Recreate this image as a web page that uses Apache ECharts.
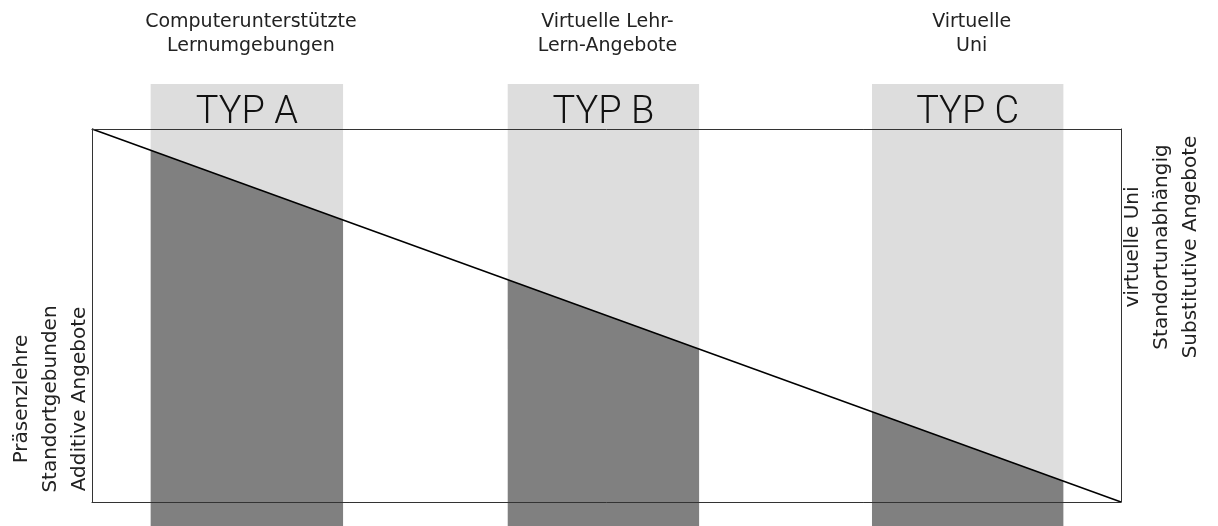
<!DOCTYPE html>
<html>
<head>
<meta charset="utf-8">
<script src="https://cdn.jsdelivr.net/npm/echarts@6/dist/echarts.min.js"></script>
<style>
  html, body { margin: 0; padding: 0; background: #fff; }
  #chart { width: 1218px; height: 526px; }
</style>
</head>
<body>
<div id="chart"></div>
<script>
// Typen (Bänder) und ihre Beschriftungen
const bandNames = ['TYP A', 'TYP B', 'TYP C'];
const bandTitles = ['Computerunterstützte\nLernumgebungen', 'Virtuelle Lehr-\nLern-Angebote', 'Virtuelle\nUni'];
// Lage der Bänder auf der x-Achse (0 = Präsenzlehre, 100 = virtuelle Uni)
const bandStart = [5.7, 40.4, 75.8];
const bandEnd = [24.4, 59.0, 94.4];
// Diagonale von links oben nach rechts unten
const diagonal = [[0, 100], [100, 0]];
const leftLabel = 'Präsenzlehre\nStandortgebunden\nAdditive Angebote';
const rightLabel = 'virtuelle Uni\nStandortunabhängig\nSubstitutive Angebote';

const FONT = '"DejaVu Sans", sans-serif';

// y-Wert der Diagonale an der Stelle x
function diagY(x) {
  const [a, b] = diagonal;
  return a[1] + (b[1] - a[1]) * (x - a[0]) / (b[0] - a[0]);
}

const bandData = bandStart.map((s, i) => [s, bandEnd[i], i]);

/**
 * Rahmen über Achslinien
 */
const frameAxis = {
  type: 'value',
  min: 0,
  max: 100,
  z: 5,
  axisLine: { show: true, onZero: false, lineStyle: { color: '#333', width: 1 } },
  axisTick: { show: false },
  axisLabel: { show: false },
  splitLine: { show: false },
};

function renderBand(params, api) {
  const x0 = api.value(0);
  const x1 = api.value(1);
  const idx = api.value(2);
  const p0 = api.coord([x0, diagY(x0)]);
  const p1 = api.coord([x1, diagY(x1)]);
  const gridTop = api.coord([x0, 100])[1];
  const top = gridTop - 45;
  const bottom = api.getHeight();
  const cx = (p0[0] + p1[0]) / 2;
  return {
    type: 'group',
    children: [
      {
        type: 'polygon',
        shape: { points: [[p0[0], top], [p1[0], top], p1, p0] },
        style: { fill: '#dddddd' },
      },
      {
        type: 'polygon',
        shape: { points: [p0, p1, [p1[0], bottom], [p0[0], bottom]] },
        style: { fill: '#808080' },
      },
      {
        type: 'text',
        x: cx,
        y: gridTop - 16,
        style: {
          text: bandNames[idx],
          fontFamily: 'Roboto, sans-serif',
          fontWeight: 300,
          fontSize: 38,
          fill: '#111',
          textAlign: 'center',
          textVerticalAlign: 'middle',
        },
      },
      {
        type: 'text',
        x: cx + 4,
        y: 34,
        style: {
          text: bandTitles[idx],
          fontFamily: FONT,
          fontSize: 19,
          lineHeight: 24,
          fill: '#222',
          textAlign: 'center',
          textVerticalAlign: 'middle',
        },
      },
    ],
  };
}

const sideText = {
  fontFamily: FONT,
  fontSize: 20,
  lineHeight: 29,
  fill: '#222',
  textAlign: 'center',
  textVerticalAlign: 'middle',
};

const option = {
  animation: false,
  grid: { left: 92, right: 97, top: 129, bottom: 24 },
  xAxis: [
    { ...frameAxis, position: 'bottom' },
    { ...frameAxis, position: 'top' },
  ],
  yAxis: [
    { ...frameAxis, position: 'left' },
    { ...frameAxis, position: 'right' },
  ],
  graphic: [
    {
      type: 'text',
      x: 51,
      y: 399,
      rotation: Math.PI / 2,
      style: { ...sideText, text: leftLabel },
    },
    {
      type: 'text',
      x: 1162,
      y: 247,
      rotation: Math.PI / 2,
      style: { ...sideText, text: rightLabel },
    },
  ],
  series: [
    {
      type: 'custom',
      z: 2,
      clip: false,
      renderItem: renderBand,
      data: bandData,
    },
    {
      type: 'line',
      z: 4,
      symbol: 'none',
      lineStyle: { color: '#000', width: 1.5 },
      data: diagonal,
    },
  ],
};

const myChart = echarts.init(document.getElementById('chart'));
myChart.setOption(option);
</script>
</body>
</html>
